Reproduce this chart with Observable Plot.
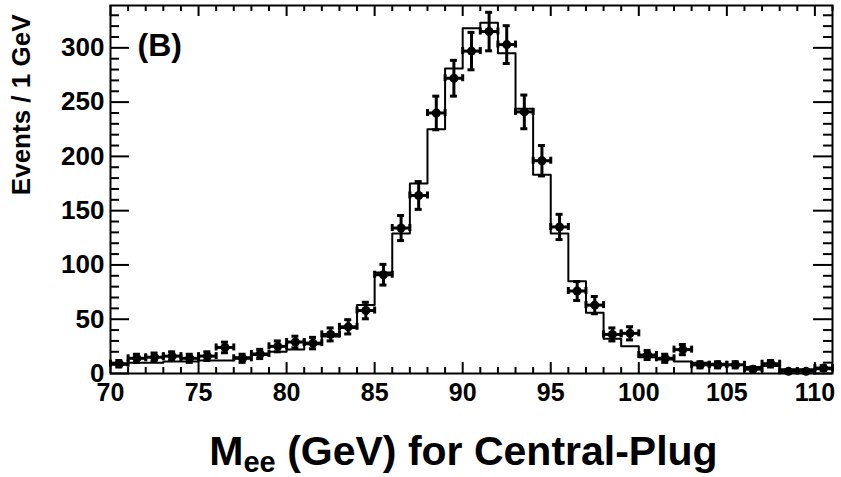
<!DOCTYPE html>
<html>
<head>
<meta charset="utf-8">
<script src="https://cdn.jsdelivr.net/npm/d3@7"></script>
<script src="https://cdn.jsdelivr.net/npm/@observablehq/plot@0.6"></script>
<style>
  html, body { margin: 0; padding: 0; background: #fff; }
  svg { display: block; }
</style>
</head>
<body>
<div id="chart"></div>
<script>
// Di-electron invariant mass, 1 GeV bins (lower bin edges)
const binLow = [70, 71, 72, 73, 74, 75, 76, 77, 78, 79,
                80, 81, 82, 83, 84, 85, 86, 87, 88, 89,
                90, 91, 92, 93, 94, 95, 96, 97, 98, 99,
                100, 101, 102, 103, 104, 105, 106, 107, 108, 109, 110];

// Observed events per bin
const dataCounts = [9, 14, 15, 16, 14, 16, 24, 14, 18, 25,
                    29, 28, 36, 43, 58, 91, 134, 164, 240, 272,
                    297, 315, 303, 241, 196, 135, 76, 63, 36, 37,
                    17, 14, 22, 8, 8, 8, 4, 9, 2, 2, 5];

// Simulated expectation per bin
const mcCounts = [8, 10, 10, 11, 11, 12, 12, 15, 17, 20,
                  22, 27, 34, 42, 63, 93, 129, 175, 225, 281,
                  318, 323, 295, 244, 183, 129, 85, 56, 32, 25,
                  15, 13, 11, 10, 9, 8, 6, 7, 4, 4, 4];

const xMajorTicks = [70, 75, 80, 85, 90, 95, 100, 105, 110];
const yMajorTicks = [0, 50, 100, 150, 200, 250, 300];

const panelLabel = "(B)";
const yTitle = "Events / 1 GeV";
const xTitleMain = "M";
const xTitleSub = "ee";
const xTitleRest = " (GeV) for Central-Plug";

const W = 841, H = 477;
const margin = {top: 5, right: 9, bottom: 104, left: 110};
const innerW = W - margin.left - margin.right;
const innerH = H - margin.top - margin.bottom;
const xDomain = [70, 111];
const yDomain = [0, 339];

const points = binLow.map((lo, i) => ({
  lo, hi: lo + 1, mid: lo + 0.5,
  n: dataCounts[i],
  err: Math.sqrt(dataCounts[i])
}));

// step outline of the simulation, closed at the upper edge of the last bin
const mcStep = binLow.map((lo, i) => ({x: lo, y: mcCounts[i]}))
  .concat([{x: binLow[binLow.length - 1] + 1, y: mcCounts[mcCounts.length - 1]}]);

const xMinor = d3.range(xDomain[0], xDomain[1] + 1, 1).filter(v => v % 5 !== 0);
const yMinor = d3.range(10, yDomain[1], 10).filter(v => v % 50 !== 0);

const font = "'Liberation Sans', Arial, Helvetica, sans-serif";
const capHalf = -3.5;

const chart = Plot.plot({
  width: W,
  height: H,
  marginTop: margin.top,
  marginRight: margin.right,
  marginBottom: margin.bottom,
  marginLeft: margin.left,
  style: {fontFamily: font, color: "black", background: "white"},
  x: {domain: xDomain},
  y: {domain: yDomain},
  marks: [
    // inward ticks on all four sides
    Plot.ruleX(xMajorTicks, {insetTop: innerH - 11, strokeWidth: 2}),
    Plot.ruleX(xMinor, {insetTop: innerH - 6, strokeWidth: 2}),
    Plot.ruleX(xMajorTicks, {insetBottom: innerH - 11, strokeWidth: 2}),
    Plot.ruleX(xMinor, {insetBottom: innerH - 6, strokeWidth: 2}),
    Plot.ruleY(yMajorTicks, {insetRight: innerW - 19, strokeWidth: 2}),
    Plot.ruleY(yMinor, {insetRight: innerW - 9, strokeWidth: 2}),
    Plot.ruleY(yMajorTicks, {insetLeft: innerW - 19, strokeWidth: 2}),
    Plot.ruleY(yMinor, {insetLeft: innerW - 9, strokeWidth: 2}),

    Plot.axisX(xMajorTicks, {tickSize: 0, tickPadding: 10, fontSize: 25, fontWeight: "bold", label: null}),
    Plot.axisY(yMajorTicks, {tickSize: 0, tickPadding: 6, fontSize: 26, fontWeight: "bold", label: null}),

    // simulation histogram
    Plot.line(mcStep, {x: "x", y: "y", curve: "step-after", stroke: "black", strokeWidth: 2}),

    // data: statistical error bars, bin-width bars, caps and markers
    Plot.ruleX(points, {x: "mid", y1: d => d.n - d.err, y2: d => d.n + d.err, strokeWidth: 3}),
    Plot.ruleY(points, {y: "n", x1: "lo", x2: "hi", strokeWidth: 3}),
    Plot.ruleY(points, {y: d => d.n + d.err, x1: "mid", x2: "mid", insetLeft: capHalf, insetRight: capHalf, strokeWidth: 3}),
    Plot.ruleY(points, {y: d => d.n - d.err, x1: "mid", x2: "mid", insetLeft: capHalf, insetRight: capHalf, strokeWidth: 3}),
    Plot.ruleX(points, {x: "lo", y1: "n", y2: "n", insetTop: capHalf, insetBottom: capHalf, strokeWidth: 3}),
    Plot.ruleX(points, {x: "hi", y1: "n", y2: "n", insetTop: capHalf, insetBottom: capHalf, strokeWidth: 3}),
    Plot.dot(points, {x: "mid", y: "n", r: 4.5, fill: "black"}),

    Plot.frame({stroke: "black", strokeWidth: 2}),

    Plot.text([panelLabel], {frameAnchor: "top-left", dx: 27, dy: 50, lineAnchor: "bottom", textAnchor: "start",
      fontSize: 32, fontWeight: "bold"}),
    Plot.text([yTitle], {frameAnchor: "top-left", dx: -81, dy: 9, rotate: -90, textAnchor: "end",
      lineAnchor: "bottom", fontSize: 26, fontWeight: "bold"}),
    Plot.text([xTitleMain + xTitleSub + xTitleRest], {frameAnchor: "bottom", dx: -8, dy: 91, lineAnchor: "bottom",
      fontSize: 41, fontWeight: "bold"})
  ]
});

// subscript for the mass symbol in the axis title
d3.select(chart).selectAll("text")
  .filter(function () { return this.textContent === xTitleMain + xTitleSub + xTitleRest; })
  .each(function () {
    const t = d3.select(this);
    t.text(null);
    t.append("tspan").text(xTitleMain);
    t.append("tspan").attr("font-size", 29).attr("dy", 7).text(xTitleSub);
    t.append("tspan").attr("dy", -7).text(xTitleRest);
  });

document.getElementById("chart").appendChild(chart);
</script>
</body>
</html>
